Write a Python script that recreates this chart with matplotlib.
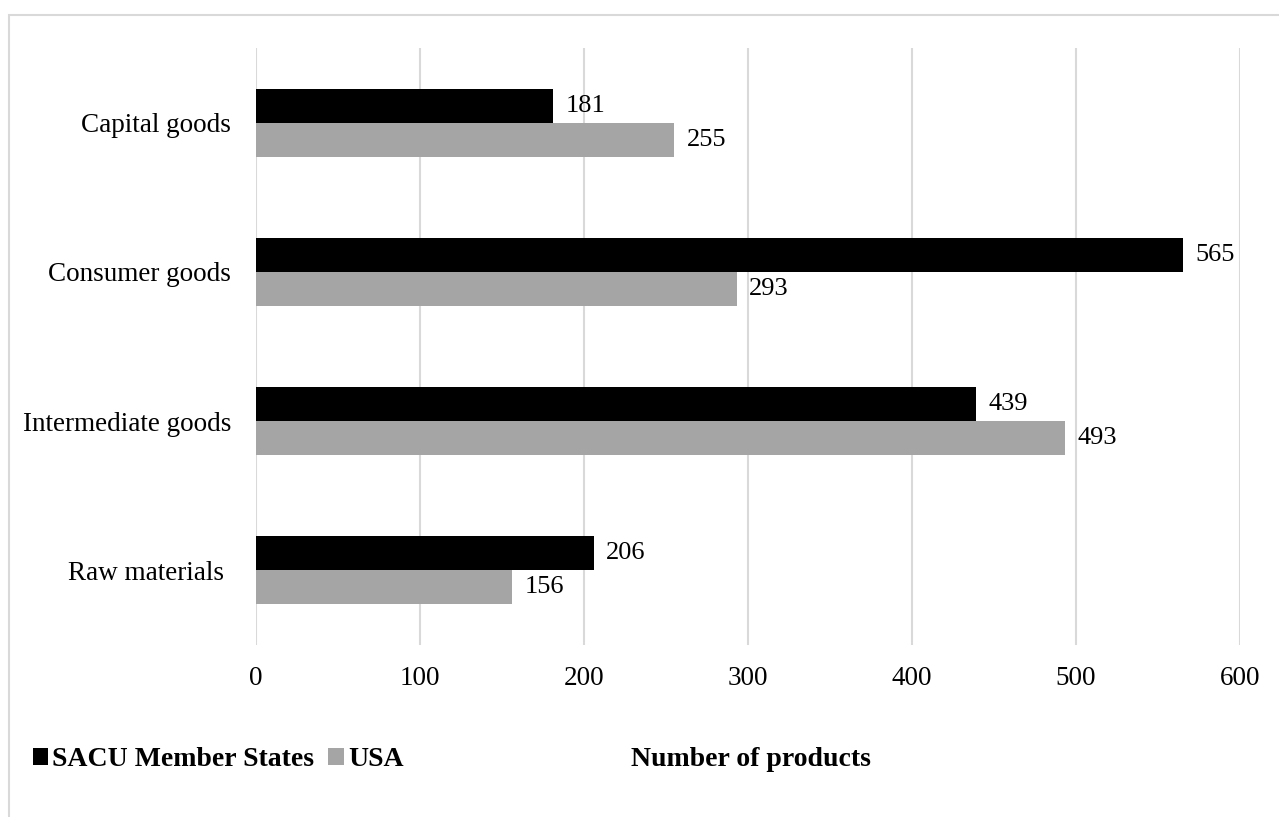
import matplotlib.pyplot as plt
import matplotlib.patches as patches
import numpy as np

categories = ["Capital goods", "Consumer goods", "Intermediate goods", "Raw materials "]
sacu = [181, 565, 439, 206]
usa = [255, 293, 493, 156]
series_names = ["SACU Member States", "USA"]
x_ticks = [0, 100, 200, 300, 400, 500, 600]

plt.rcParams['font.family'] = ['Liberation Serif', 'DejaVu Serif']

fig = plt.figure(figsize=(12.79, 8.17), dpi=100)
ax = fig.add_axes([256 / 1279, 1 - 645 / 817, 984 / 1279, 597 / 817])

# outer frame like the Excel chart area
frame = patches.Rectangle((9 / 1279, -0.1), 1.2, 1 - 15 / 817 + 0.1,
                          transform=fig.transFigure, fill=False,
                          edgecolor='#d9d9d9', linewidth=1.5)
fig.patches.append(frame)

pos = np.arange(len(categories))
h = 0.227
b1 = ax.barh(pos - h / 2, sacu, height=h, color='black', label=series_names[0])
b2 = ax.barh(pos + h / 2, usa, height=h, color='#a5a5a5', label=series_names[1])

for bars, vals in ((b1, sacu), (b2, usa)):
    for bar, v in zip(bars, vals):
        ax.annotate(str(v), (v, bar.get_y() + bar.get_height() / 2),
                    xytext=(9, 0), textcoords='offset points',
                    va='center', ha='left', fontsize=19)

ax.set_xlim(0, 600)
ax.set_ylim(3.5, -0.5)
ax.set_xticks(x_ticks)
ax.set_yticks(pos)
ax.set_yticklabels(categories)
ax.tick_params(axis='both', length=0, labelsize=19.5)
ax.tick_params(axis='y', pad=18)
ax.tick_params(axis='x', pad=15)
ax.xaxis.grid(True, color='#d9d9d9', linewidth=1.5)
ax.set_axisbelow(True)
for s in ax.spines.values():
    s.set_visible(False)

fig.text(751 / 1279, 1 - 760 / 817, "Number of products", ha='center', va='center',
         fontsize=20, fontweight='bold')

leg = fig.legend(handles=[b1, b2], loc='center left', bbox_to_anchor=(33 / 1279, 1 - 760 / 817),
                 ncol=2, frameon=False, prop={'size': 20, 'weight': 'bold'},
                 handlelength=0.55, handleheight=0.55, handletextpad=0.15, columnspacing=0.5,
                 borderaxespad=0, borderpad=0)

fig.savefig("out.png", dpi=100)
